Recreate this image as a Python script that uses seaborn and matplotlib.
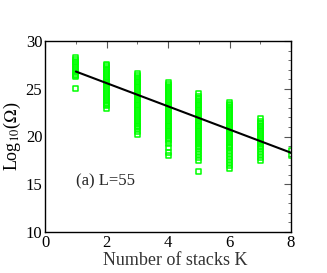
import numpy as np
import pandas as pd
import seaborn as sns
import matplotlib.pyplot as plt
from matplotlib.ticker import MultipleLocator

# log10(Omega) values, one list per number of stacks K
k1 = [25.0, 26.3, 26.4, 26.5, 26.7, 26.9, 27.1, 27.3, 27.5, 27.7, 27.9, 28.1, 28.3]
k2 = [22.9, 23.2, 23.4, 23.6, 23.8, 24.0, 24.2, 24.4, 24.6, 24.8, 25.0, 25.2,
      25.4, 25.6, 25.8, 26.0, 26.2, 26.4, 26.6, 26.8, 27.0, 27.2, 27.4, 27.5]
k3 = [20.2, 20.5, 20.8, 21.0, 21.2, 21.4, 21.6, 21.8, 22.0, 22.2, 22.4, 22.6,
      22.8, 23.0, 23.2, 23.4, 23.6, 23.8, 24.0, 24.2, 24.4, 24.6, 24.8, 25.0,
      25.2, 25.4, 25.6, 25.8, 26.0, 26.2, 26.4, 26.6]
k4 = [18.0, 18.3, 18.8, 19.3, 19.6, 19.8, 20.0, 20.2, 20.4, 20.6, 20.8, 21.0,
      21.2, 21.4, 21.6, 21.8, 22.0, 22.2, 22.4, 22.6, 22.8, 23.0, 23.2, 23.4,
      23.6, 23.8, 24.0, 24.2, 24.4, 24.6, 24.8, 25.0, 25.2, 25.4, 25.7]
k5 = [16.3, 17.5, 17.8, 18.1, 18.4, 18.7, 19.0, 19.2, 19.4, 19.6, 19.8, 20.0,
      20.2, 20.4, 20.6, 20.8, 21.0, 21.2, 21.4, 21.6, 21.8, 22.0, 22.2, 22.4,
      22.6, 22.8, 23.0, 23.2, 23.4, 23.6, 23.8, 24.0, 24.2, 24.5]
k6 = [16.7, 17.0, 17.3, 17.6, 17.9, 18.2, 18.5, 18.8, 19.0, 19.2, 19.4, 19.6,
      19.8, 20.0, 20.2, 20.4, 20.6, 20.8, 21.0, 21.2, 21.4, 21.6, 21.8, 22.0,
      22.2, 22.4, 22.6, 22.8, 23.0, 23.2, 23.4, 23.6]
k7 = [17.5, 17.8, 18.1, 18.4, 18.7, 19.0, 19.2, 19.4, 19.6, 19.8, 20.0, 20.2,
      20.4, 20.6, 20.8, 21.0, 21.2, 21.4, 21.6, 21.9]
k8 = [18.0, 18.5]

# straight fit line
fit_k = [1, 8]
fit_y = [26.8, 18.3]

columns = [k1, k2, k3, k4, k5, k6, k7, k8]
df = pd.DataFrame({
    'K': np.concatenate([[i + 1] * len(c) for i, c in enumerate(columns)]),
    'logomega': np.concatenate(columns),
})

sns.set_theme(style='white')
plt.rcParams['font.family'] = ['Liberation Serif', 'DejaVu Serif']
plt.rcParams['mathtext.fontset'] = 'stix'

fig, ax = plt.subplots(figsize=(3.27, 2.73), dpi=100)
fig.subplots_adjust(left=0.138, right=0.89, top=0.85, bottom=0.15)

sns.scatterplot(data=df, x='K', y='logomega', marker='s', s=13,
                facecolor='none', edgecolor='#00ff00', linewidth=1.1, ax=ax)
sns.lineplot(x=fit_k, y=fit_y, color='black', linewidth=1.5, ax=ax)

ax.set_xlim(0, 8)
ax.set_ylim(10, 30)
ax.xaxis.set_major_locator(MultipleLocator(2))
ax.xaxis.set_minor_locator(MultipleLocator(1))
ax.yaxis.set_major_locator(MultipleLocator(5))
ax.yaxis.set_minor_locator(MultipleLocator(1))
ax.tick_params(which='both', direction='in', top=True, right=True,
               labelsize=12, colors='black', pad=2)
ax.tick_params(which='major', length=5, width=0.8, color='#555555')
ax.tick_params(which='minor', length=2.5, width=0.6, color='#555555')
for s in ax.spines.values():
    s.set_color('black')
    s.set_linewidth(1.0)

ax.set_xlabel('Number of stacks K', fontsize=13, color='#333333')
ax.xaxis.set_label_coords(0.53, -0.105)
ax.set_ylabel(r'Log$_{10}$($\Omega$)', fontsize=13, labelpad=2, color='black')
ax.text(1.0, 15.3, '(a) L=55', fontsize=12, va='center')

fig.savefig('out.png', dpi=100)
